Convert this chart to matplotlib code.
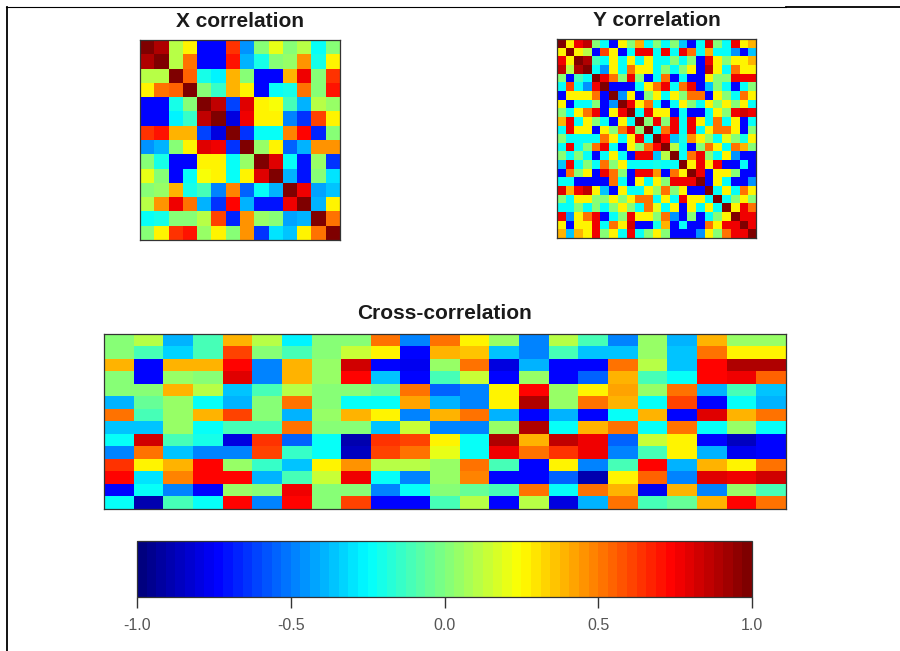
import numpy as np
import matplotlib
matplotlib.use('Agg')
import matplotlib.pyplot as plt
from matplotlib.colors import LinearSegmentedColormap, Normalize
from matplotlib.cm import ScalarMappable
from matplotlib.lines import Line2D

plt.rcParams['font.family'] = ['Liberation Sans', 'DejaVu Sans']

# ---------------- data ----------------
x_corr = [
    [1.0, 0.9, 0.1, 0.25, -0.72, -0.72, 0.65, -0.45, 0.0, 0.2, 0.0, 0.1, -0.25, 0.0],
    [0.9, 1.0, 0.12, 0.5, -0.75, -0.72, 0.7, -0.4, -0.2, 0.0, 0.05, 0.45, -0.2, 0.25],
    [0.1, 0.12, 1.0, 0.55, -0.2, -0.28, 0.38, 0.02, -0.75, -0.72, 0.4, 0.75, 0.0, 0.65],
    [0.25, 0.5, 0.55, 1.0, 0.0, -0.15, 0.4, 0.25, -0.75, -0.25, -0.2, 0.5, 0.02, 0.7],
    [-0.72, -0.75, -0.2, 0.0, 1.0, 0.85, -0.6, 0.8, 0.25, 0.22, -0.1, -0.38, 0.1, 0.05],
    [-0.72, -0.72, -0.28, -0.15, 0.85, 1.0, -0.8, 0.75, 0.25, 0.25, -0.5, -0.65, 0.62, 0.25],
    [0.65, 0.7, 0.38, 0.4, -0.6, -0.8, 1.0, -0.65, -0.25, -0.25, 0.48, 0.72, -0.68, 0.02],
    [-0.45, -0.4, 0.02, 0.25, 0.8, 0.75, -0.65, 1.0, 0.05, 0.25, -0.55, -0.4, 0.45, 0.45],
    [0.0, -0.2, -0.75, -0.75, 0.25, 0.25, -0.25, 0.05, 1.0, 0.8, -0.25, -0.7, 0.05, -0.65],
    [0.2, 0.0, -0.72, -0.25, 0.22, 0.25, -0.25, 0.25, 0.8, 1.0, -0.4, -0.7, 0.02, -0.3],
    [0.0, 0.05, 0.4, -0.2, -0.1, -0.5, 0.48, -0.55, -0.25, -0.4, 1.0, 0.75, -0.42, -0.35],
    [0.1, 0.45, 0.75, 0.5, -0.38, -0.65, 0.72, -0.4, -0.7, -0.7, 0.75, 1.0, -0.4, 0.25],
    [-0.25, -0.2, 0.0, 0.02, 0.1, 0.62, -0.68, 0.45, 0.05, 0.02, -0.42, -0.4, 1.0, 0.5],
    [0.0, 0.25, 0.65, 0.7, 0.05, 0.25, 0.02, 0.45, -0.65, -0.3, -0.35, 0.25, 0.5, 1.0],
]

y_corr = [
    [1, .25, .75, .85, 0, -.25, -.72, .25, 0, .38, -.25, 0, -.25, 0, -.35, -.72, -.25, .8, 0, -.25, .75, .25, .38],
    [.25, 1, .25, .12, -.72, .62, .25, -.72, -.25, .75, .75, -.25, .75, -.25, .75, .5, -.25, .38, -.25, -.25, -.45, -.72, -.35],
    [.75, .25, 1, .9, -.12, -.25, .25, -.25, .25, -.25, .25, -.25, -.25, 0, -.25, 0, -.72, .75, .25, 0, .25, .25, .38],
    [.85, .12, .9, 1, -.25, -.45, .25, -.25, .5, .25, .25, -.25, 0, -.25, 0, .25, -.72, .85, .25, -.25, .5, .25, .25],
    [0, -.72, -.12, -.25, 1, .75, .5, 0, .75, 0, -.72, -.25, .5, -.72, -.25, -.72, -.72, .25, 0, 0, .75, .75, .75],
    [-.25, .62, -.25, -.45, .75, 1, -.72, -.72, -.72, -.25, .25, .5, .75, -.25, .5, .75, -.72, -.35, 0, -.25, -.72, -.25, 0],
    [-.72, .25, .25, .25, .5, -.72, 1, -.45, .25, -.72, 0, .25, -.25, .25, 0, .5, .5, -.72, .25, 0, -.25, .5, .25],
    [.25, -.72, -.25, -.25, 0, -.72, -.45, 1, .75, .25, .5, -.25, -.72, -.25, .25, 0, -.25, .25, 0, .25, 0, .25, -.25],
    [0, -.25, .25, .5, .75, -.72, .25, .75, 1, -.25, .75, .25, .25, -.72, -.25, -.72, -.72, -.25, .25, 0, .75, .82, .75],
    [.38, .75, -.25, .25, 0, -.25, -.72, .25, -.25, 1, 0, .75, 0, .75, -.25, .75, .25, -.25, .5, -.25, .25, -.72, -.25],
    [-.25, .75, .25, .25, -.72, .25, 0, .5, .75, 0, 1, -.25, .5, .75, -.25, .75, -.25, .25, .5, .5, .25, -.72, 0],
    [0, -.25, -.25, -.25, -.25, .5, .25, -.25, .25, .75, -.25, 1, .72, -.35, -.2, .45, .25, .05, -.25, .2, 0, -.2, .25],
    [-.25, .75, -.25, 0, .5, .75, -.25, -.72, .25, 0, .5, .72, 1, .12, -.25, -.72, 0, .5, .25, -.25, .5, .38, 0],
    [0, -.25, 0, -.25, -.72, -.25, .25, -.25, -.72, .75, .75, -.35, .12, 1, -.25, .5, .75, 0, -.25, .25, -.45, -.72, -.72],
    [-.35, .75, -.25, 0, -.25, .5, 0, .25, -.25, -.25, -.25, -.2, -.25, -.25, 1, .25, .75, .25, .75, -.72, -.72, -.25, -.72],
    [-.72, .5, 0, .25, -.72, .75, .5, 0, -.72, .75, .75, .45, -.72, .5, .25, 1, .75, -.72, .25, .25, 0, -.72, -.72],
    [-.25, -.25, -.72, -.72, -.72, -.72, .5, -.25, -.72, .25, -.25, .25, 0, .75, .75, .75, 1, -.72, .25, -.25, -.72, -.72, -.45],
    [.8, .38, .75, .85, .25, -.35, -.72, .25, -.25, -.25, .25, .05, .5, 0, .25, -.72, -.72, 1, -.25, .25, -.25, .5, .25],
    [0, -.25, .25, .25, 0, 0, .25, 0, .25, .5, .5, -.25, .25, -.25, .75, .25, .25, -.25, 1, -.25, 0, .25, 0],
    [-.25, -.25, 0, -.25, 0, -.25, 0, .25, 0, -.25, .5, .2, -.25, .25, -.72, .25, -.25, .25, -.25, 1, .25, .75, .5],
    [.75, -.45, .25, .5, .75, -.72, -.25, 0, .75, .25, .25, 0, .5, -.45, -.72, 0, -.72, -.25, 0, .25, 1, .75, .75],
    [.25, -.72, .25, .25, .75, -.25, .5, .25, .82, -.72, -.72, -.2, .38, -.72, -.25, -.72, -.72, .5, .25, .75, .75, 1, .75],
    [.38, -.35, .38, .25, .75, 0, .25, -.25, .75, -.25, 0, .25, 0, -.72, -.72, -.72, -.45, .25, 0, .5, .75, .75, 1],
]

# cross-correlation, one list per column (14 X-variables each, top to bottom)
cross_cols = [
    [0.0, 0.0, 0.38, 0.02, 0.0, -0.4, 0.5, -0.35, -0.22, -0.5, 0.65, 0.72, -0.72, -0.25],
    [0.12, -0.12, -0.75, -0.72, 0.0, -0.05, -0.12, -0.35, 0.82, 0.5, 0.25, -0.3, -0.25, -0.88],
    [-0.38, -0.32, 0.4, 0.05, 0.38, 0.05, 0.05, 0.05, -0.12, -0.35, 0.4, 0.48, -0.5, -0.1],
    [-0.1, -0.12, 0.38, 0.02, 0.12, -0.25, 0.38, -0.25, -0.2, -0.5, 0.72, 0.72, -0.72, -0.25],
    [0.4, 0.62, 0.72, 0.8, -0.35, -0.38, 0.62, -0.12, -0.8, -0.5, 0.05, 0.72, 0.05, 0.72],
    [0.12, 0.0, -0.5, -0.5, -0.1, 0.0, 0.0, -0.12, 0.65, 0.62, -0.15, -0.38, 0.02, -0.5],
    [-0.28, -0.12, 0.4, 0.38, 0.12, 0.5, -0.38, 0.5, -0.55, -0.15, -0.35, -0.1, 0.78, 0.72],
    [0.0, 0.0, 0.05, 0.05, 0.0, 0.0, 0.05, 0.0, -0.22, -0.22, 0.25, 0.15, 0.0, 0.0],
    [0.0, 0.15, 0.82, 0.72, 0.0, -0.22, 0.4, 0.0, -0.9, -0.85, 0.45, 0.75, 0.02, 0.6],
    [0.5, 0.25, -0.75, -0.35, -0.05, -0.22, 0.28, -0.35, 0.65, 0.6, 0.12, -0.25, -0.5, -0.72],
    [-0.5, -0.75, -0.78, -0.75, 0.52, 0.42, -0.5, 0.15, 0.62, 0.5, 0.12, -0.5, -0.25, -0.75],
    [0.5, 0.4, 0.05, -0.1, -0.55, -0.38, 0.4, -0.5, 0.25, 0.2, 0.05, 0.05, 0.02, -0.12],
    [0.28, 0.35, 0.5, 0.15, -0.5, -0.48, 0.5, -0.5, -0.25, -0.25, 0.5, 0.48, -0.05, 0.12],
    [0.05, -0.35, -0.8, -0.75, 0.28, 0.28, -0.38, 0.05, 0.88, 0.75, -0.1, -0.75, -0.1, -0.75],
    [-0.5, -0.5, -0.4, 0.05, 0.72, 0.88, -0.75, 0.88, 0.4, 0.5, -0.72, -0.75, 0.5, 0.12],
    [0.12, -0.1, -0.75, -0.75, 0.05, 0.05, -0.38, -0.25, 0.85, 0.65, 0.25, -0.55, -0.25, -0.8],
    [-0.1, -0.35, -0.72, -0.55, 0.28, 0.5, -0.75, 0.4, 0.75, 0.78, -0.5, -0.9, 0.5, -0.38],
    [-0.5, -0.35, 0.52, 0.4, 0.42, 0.4, -0.22, 0.5, -0.55, -0.5, -0.1, 0.25, 0.38, 0.5],
    [0.05, 0.05, 0.12, -0.1, 0.05, -0.25, 0.38, -0.25, 0.15, -0.12, 0.72, 0.55, -0.78, -0.1],
    [-0.38, -0.35, -0.35, -0.25, 0.52, 0.62, -0.75, 0.5, 0.28, 0.25, -0.38, -0.5, 0.4, -0.05],
    [0.4, 0.5, 0.72, 0.72, -0.38, -0.72, 0.8, -0.25, -0.72, -0.38, 0.4, 0.8, -0.5, 0.4],
    [0.05, 0.25, 0.88, 0.75, -0.1, -0.25, 0.38, 0.05, -0.85, -0.78, 0.28, 0.75, 0.05, 0.72],
    [0.05, 0.25, 0.9, 0.55, -0.35, -0.38, 0.5, -0.25, -0.75, -0.75, 0.5, 0.82, -0.1, 0.5],
]

titles = ["X correlation", "Y correlation", "Cross-correlation"]
cbar_ticks = [-1.0, -0.5, 0.0, 0.5, 1.0]
cbar_labels = ["-1.0", "-0.5", "0.0", "0.5", "1.0"]

# ---------------- style ----------------
jet_colors = ["#00007F", "#0000FF", "#007FFF", "#00FFFF", "#7FFF7F",
              "#FFFF00", "#FF7F00", "#FF0000", "#7F0000"]
cmap = LinearSegmentedColormap.from_list("jetR", jet_colors, N=64)
norm = Normalize(vmin=-1, vmax=1)

W, H = 900, 651
fig = plt.figure(figsize=(W / 100, H / 100), dpi=100)


def rect(x0, y0, x1, y1):
    return [x0 / W, 1 - y1 / H, (x1 - x0) / W, (y1 - y0) / H]


def heat(r, M, title, pad):
    ax = fig.add_axes(r)
    ax.imshow(np.asarray(M, dtype=float), cmap=cmap, norm=norm,
              aspect="auto", interpolation="nearest")
    ax.set_xticks([])
    ax.set_yticks([])
    for s in ax.spines.values():
        s.set_linewidth(0.9)
        s.set_color("#333333")
    ax.set_title(title, fontsize=15, fontweight="bold", pad=pad, color="#1a1a1a")
    return ax


heat(rect(140, 40, 340, 240), x_corr, titles[0], 9)
heat(rect(557, 39, 756, 238), y_corr, titles[1], 9)
heat(rect(104, 334, 786, 509), np.asarray(cross_cols).T, titles[2], 11)

cax = fig.add_axes(rect(137, 541, 752, 597))
cb = fig.colorbar(ScalarMappable(norm=norm, cmap=cmap), cax=cax,
                  orientation="horizontal", ticks=cbar_ticks)
cb.ax.set_xticklabels(cbar_labels)
cb.ax.tick_params(axis="x", length=8, width=1, color="#333333",
                  labelsize=11.5, labelcolor="#555555", pad=7)
cb.outline.set_linewidth(0.9)
cb.outline.set_edgecolor("#333333")

# screenshot frame lines
fig.add_artist(Line2D([6.5 / W, 6.5 / W], [0, 1 - 6.5 / H], transform=fig.transFigure,
                      color="black", lw=1.3))
fig.add_artist(Line2D([6 / W, 786 / W], [1 - 7 / H, 1 - 7 / H], transform=fig.transFigure,
                      color="black", lw=0.8))
fig.add_artist(Line2D([786 / W, 1], [1 - 7.3 / H, 1 - 7.3 / H], transform=fig.transFigure,
                      color="black", lw=1.3))

fig.savefig("out.png", dpi=100)
